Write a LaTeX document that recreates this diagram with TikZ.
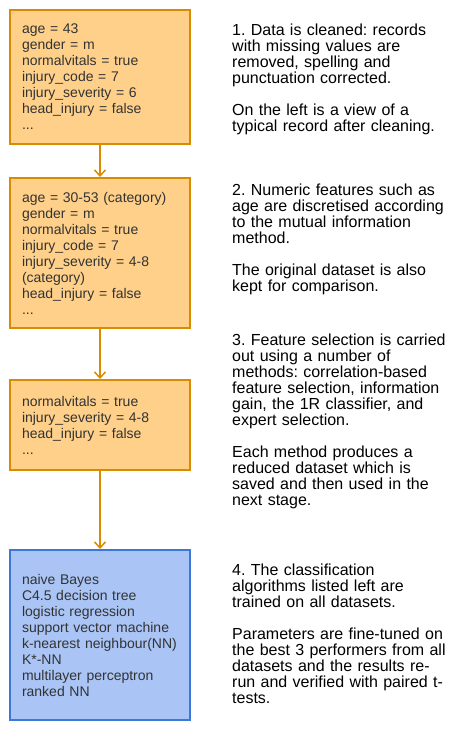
\documentclass[tikz,border=0pt]{standalone}
\usepackage{fontspec}
\setmainfont{Liberation Sans}
\frenchspacing
\usetikzlibrary{
	arrows.meta,
	positioning,
}
\definecolor{recfill}{HTML}{FFD08A}
\definecolor{recline}{HTML}{D98C00}
\definecolor{algofill}{HTML}{A9C4F5}
\definecolor{algoline}{HTML}{3C78D8}
\tikzset{record box/.style={
	draw=recline,
	fill=recfill,
	rectangle,
	line width=2pt,
	text width=156pt,
	inner xsep=12pt,
	inner ysep=0pt,
	align=left,
	text=black!80,
	font=\fontsize{14pt}{16pt}\selectfont,
}}
\tikzset{algo box/.style={
	record box,
	draw=algoline,
	fill=algofill,
}}
\tikzset{note/.style={
	anchor=north west,
	inner sep=0pt,
	text width=230pt,
	align=left,
	font=\fontsize{16pt}{16pt}\selectfont,
}}
\tikzset{flow/.style={
	draw=recline,
	line width=1.5pt,
	-{Straight Barb[length=6pt,width=11pt]},
}}

\begin{document}
\begin{tikzpicture}[x=1pt,y=-1pt]
\useasboundingbox (0,0) rectangle (468,740);

\node(cleaned)[record box, minimum height=134pt] at(100,77) {age = 43\\ gender = m\\ normalvitals = true\\ injury\_code = 7\\ injury\_severity = 6\\ head\_injury = false\\ ...};
\node(discretised)[record box, minimum height=150pt] at(100,253) {age = 30-53 (category)\\ gender = m\\ normalvitals = true\\ injury\_code = 7\\ injury\_severity = 4-8\\ (category)\\ head\_injury = false\\ ...};
\node(selected)[record box, minimum height=90pt] at(100,425) {normalvitals = true\\ injury\_severity = 4-8\\ head\_injury = false\\ ...};
\node(classifiers)[algo box, minimum height=170pt] at(100,635) {naive Bayes\\ C4.5 decision tree\\ logistic regression\\ support vector machine\\ k-nearest neighbour(NN)\\ K*-NN\\ multilayer perceptron\\ ranked NN};

\foreach \u \v in {
	cleaned/discretised,
	discretised/selected,
	selected/classifiers%
}{
	\draw[flow] (\u) -- (\v);
}

\node(stepone)[note] at(232,23.3) {1. Data is cleaned: records\\ with missing values are\\ removed, spelling and\\ punctuation corrected.\\[16pt] On the left is a view of a\\ typical record after cleaning.};
\node(steptwo)[note] at(232,183.3) {2. Numeric features such as\\ age are discretised according\\ to the mutual information\\ method.\\[16pt] The original dataset is also\\ kept for comparison.};
\node(stepthree)[note] at(232,333.3) {3. Feature selection is carried\\ out using a number of\\ methods: correlation-based\\ feature selection, information\\ gain, the 1R classifier, and\\ expert selection.\\[16pt] Each method produces a\\ reduced dataset which is\\ saved and then used in the\\ next stage.};
\node(stepfour)[note] at(232,563.3) {4. The classification\\ algorithms listed left are\\ trained on all datasets.\\[16pt] Parameters are fine-tuned on\\ the best 3 performers from all\\ datasets and the results re-\\ run and verified with paired t-\\ tests.};
\end{tikzpicture}
\end{document}
